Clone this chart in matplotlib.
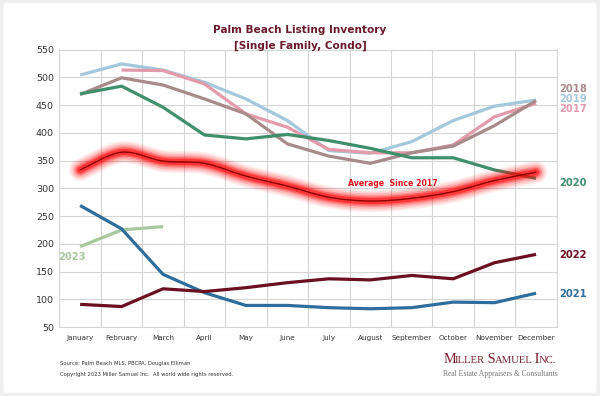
import matplotlib
matplotlib.use("Agg")
import matplotlib.pyplot as plt
import numpy as np
from matplotlib.path import Path
from matplotlib.patches import PathPatch, FancyBboxPatch

months = ["January", "February", "March", "April", "May", "June", "July",
          "August", "September", "October", "November", "December"]
y2017 = [None, 513, 512, 488, 434, 410, 370, 364, 364, 378, 429, 453]
y2018 = [469, 499, 486, 461, 434, 380, 358, 345, 364, 376, 413, 458]
y2019 = [504, 524, 513, 491, 461, 422, 368, 363, 384, 422, 448, 459]
y2020 = [470, 484, 446, 396, 389, 397, 386, 372, 355, 355, 333, 318]
y2021 = [269, 227, 145, 112, 89, 89, 85, 83, 85, 95, 94, 111]
y2022 = [91, 87, 119, 114, 121, 130, 137, 135, 143, 137, 166, 181]
y2023 = [195, 225, 231]
avg = [333, 365, 349, 345, 322, 304, 284, 277, 282, 294, 314, 329]

c2017 = "#e39aab"
c2018 = "#a88a8b"
c2019 = "#a3c8db"
c2020 = "#3f8e6c"
c2021 = "#2f6d9c"
c2022 = "#6a1020"
c2023 = "#a9c79d"
maroon = "#6b1a2a"

fig = plt.figure(figsize=(6, 3.96), dpi=100)
fig.patch.set_facecolor("#efefef")
fig.patches.append(FancyBboxPatch((0.006, 0.008), 0.988, 0.984,
                                  boxstyle="round,pad=0,rounding_size=0.006",
                                  transform=fig.transFigure, facecolor="white",
                                  edgecolor="none", zorder=-5))

ax = fig.add_axes([0.099, 0.174, 0.829, 0.701])
ax.set_zorder(2)
ax.set_facecolor("white")
x = np.arange(12)
ax.set_xlim(-0.5, 11.5)
ax.set_ylim(50, 550)
ax.set_yticks(np.arange(50, 551, 50))
ax.set_xticks(x)
ax.set_xticklabels(months, fontsize=5.2, color="#333333")
ax.tick_params(axis="y", labelsize=6.8, colors="#333333", length=0, pad=4)
ax.tick_params(axis="x", length=0, pad=6)
ax.set_xticks(np.arange(0.5, 11.5, 1), minor=True)
ax.tick_params(which="minor", length=0)
ax.grid(True, axis="y", which="major", color="#d5d5d5", lw=0.8)
ax.grid(True, axis="x", which="minor", color="#d5d5d5", lw=0.8)
for s in ax.spines.values():
    s.set_color("#d5d5d5")
    s.set_linewidth(0.8)


def series(vals):
    xs = [i for i, v in enumerate(vals) if v is not None]
    ys = [v for v in vals if v is not None]
    return xs, ys

lw = 2.3
for vals, col, z in [(y2019, c2019, 3), (y2017, c2017, 4), (y2018, c2018, 5),
                     (y2020, c2020, 6), (y2023, c2023, 3), (y2021, c2021, 7),
                     (y2022, c2022, 8)]:
    xs, ys = series(vals)
    ax.plot(xs, ys, color=col, lw=lw, zorder=z, solid_capstyle="butt",
            solid_joinstyle="round")

# smooth average curve (Catmull-Rom -> cubic Bezier)
xa = np.arange(len(avg), dtype=float)
ya = np.array(avg, dtype=float)
verts = [(xa[0], ya[0])]
codes = [Path.MOVETO]
for i in range(len(xa) - 1):
    p0 = np.array([xa[max(i - 1, 0)], ya[max(i - 1, 0)]])
    p1 = np.array([xa[i], ya[i]])
    p2 = np.array([xa[i + 1], ya[i + 1]])
    p3 = np.array([xa[min(i + 2, len(xa) - 1)], ya[min(i + 2, len(xa) - 1)]])
    c1 = p1 + (p2 - p0) / 6.0
    c2 = p2 - (p3 - p1) / 6.0
    verts += [tuple(c1), tuple(c2), tuple(p2)]
    codes += [Path.CURVE4] * 3
path = Path(verts, codes)
for w, a in [(16, 0.07), (13.5, 0.10), (11, 0.14), (8.5, 0.2), (6.5, 0.3), (4.5, 0.45)]:
    ax.add_patch(PathPatch(path, facecolor="none", edgecolor="#ff0000", lw=w,
                           alpha=a, capstyle="round", joinstyle="round", zorder=9))
ax.add_patch(PathPatch(path, facecolor="none", edgecolor="#8a0000", lw=1.0,
                       capstyle="round", zorder=10))
ax.text(7.55, 308, "Average  Since 2017", color="#e0101e", fontsize=5.6,
        fontweight="bold", ha="center", va="center", zorder=11)

# right side labels
lab_kw = dict(transform=ax.get_yaxis_transform(), fontsize=7.2,
              fontweight="bold", ha="left", va="center", clip_on=False)
ax.text(1.005, 479, "2018", color=c2018, **lab_kw)
ax.text(1.005, 461, "2019", color=c2019, **lab_kw)
ax.text(1.005, 443, "2017", color=c2017, **lab_kw)
ax.text(1.005, 310, "2020", color=c2020, **lab_kw)
ax.text(1.005, 180, "2022", color=c2022, **lab_kw)
ax.text(1.005, 110, "2021", color=c2021, **lab_kw)
ax.text(-0.2, 176, "2023", color=c2023, fontsize=7.2, fontweight="bold",
        ha="center", va="center")

fig.text(0.5, 0.925, "Palm Beach Listing Inventory", ha="center", va="center",
         fontsize=7.6, fontweight="bold", color=maroon)
fig.text(0.5, 0.885, "[Single Family, Condo]", ha="center", va="center",
         fontsize=7.6, fontweight="bold", color=maroon)

fig.text(0.1, 0.083, "Source: Palm Beach MLS, PBCPA, Douglas Elliman",
         fontsize=3.8, color="#333333", va="center")
fig.text(0.1, 0.054, "Copyright 2023 Miller Samuel Inc.  All world wide rights reserved.",
         fontsize=3.8, color="#333333", va="center")

# Small caps logo
logo_y = 0.083
parts = [("M", 10.4), ("ILLER", 7.7), (" S", 10.4), ("AMUEL", 7.7), (" I", 10.4), ("NC.", 7.7)]
renderer = fig.canvas.get_renderer()
xpos = 0.739
for txt, fs in parts:
    t = fig.text(xpos, logo_y, txt, family="Liberation Serif", fontsize=fs,
                 color="#7a1f2c", va="baseline")
    bb = t.get_window_extent(renderer=renderer)
    xpos += bb.width / fig.bbox.width - 0.0018
fig.text(0.739, 0.051, "Real Estate Appraisers & Consultants",
         family="Liberation Serif", fontsize=5.5, color="#777777", va="baseline")

fig.savefig("out.png", dpi=100, facecolor=fig.get_facecolor())
